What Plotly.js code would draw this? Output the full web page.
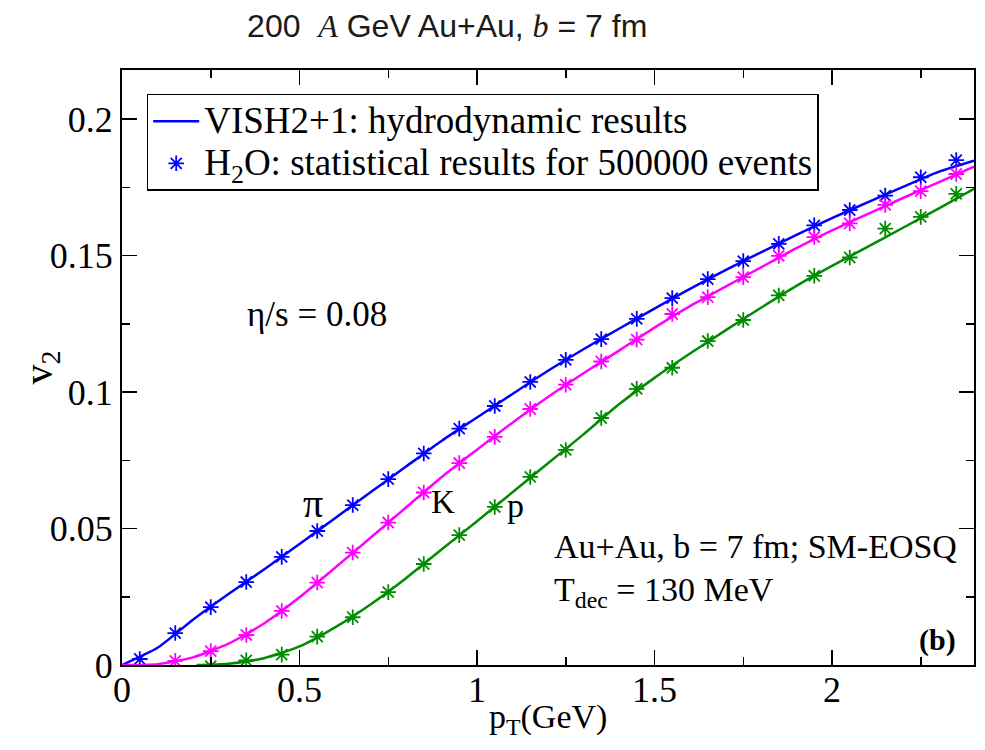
<!DOCTYPE html>
<html>
<head>
<meta charset="utf-8">
<script src="https://cdn.plot.ly/plotly-3.0.1.min.js"></script>
<style>html,body{margin:0;padding:0;background:#fff;}#chart{width:985px;height:750px;}</style>
</head>
<body>
<div id="chart"></div>
<script>
// Statistical (H2O) points
const ptPoints = [0.05,0.15,0.25,0.35,0.45,0.55,0.65,0.75,0.85,0.95,1.05,1.15,1.25,1.35,1.45,1.55,1.65,1.75,1.85,1.95,2.05,2.15,2.25,2.35];
const pionPts = [0.0022,0.0117,0.0212,0.0304,0.0396,0.0491,0.0586,0.0681,0.0775,0.0866,0.0949,0.1037,0.1118,0.1194,0.1268,0.1344,0.1414,0.1480,0.1543,0.1611,0.1667,0.1720,0.1787,0.1850];
const kaonPtsX = [0.15,0.25,0.35,0.45,0.55,0.65,0.75,0.85,0.95,1.05,1.15,1.25,1.35,1.45,1.55,1.65,1.75,1.85,1.95,2.05,2.15,2.25,2.35];
const kaonPts = [0.0015,0.0051,0.0110,0.0198,0.0302,0.0412,0.0522,0.0632,0.0740,0.0836,0.0938,0.1027,0.1112,0.1192,0.1286,0.1348,0.1421,0.1499,0.1568,0.1618,0.1686,0.1736,0.1799];
const protPtsX = [0.25,0.35,0.45,0.55,0.65,0.75,0.85,0.95,1.05,1.15,1.25,1.35,1.45,1.55,1.65,1.75,1.85,1.95,2.05,2.15,2.25,2.35];
const protPts = [-0.0004,0.0017,0.0038,0.0104,0.0175,0.0267,0.0370,0.0476,0.0579,0.0689,0.0788,0.0905,0.1012,0.1089,0.1187,0.1264,0.1354,0.1426,0.1493,0.1599,0.1642,0.1726];

// Hydrodynamic (VISH2+1) curves
const ptLine = [0,0.1,0.2,0.3,0.4,0.5,0.6,0.7,0.8,0.9,1.0,1.1,1.2,1.3,1.4,1.5,1.6,1.7,1.8,1.9,2.0,2.1,2.2,2.3,2.4];
const pionLine = [0,0.0063,0.0166,0.0260,0.0350,0.0443,0.0538,0.0633,0.0727,0.0821,0.0907,0.0993,0.1078,0.1157,0.1232,0.1306,0.1378,0.1447,0.1512,0.1576,0.1637,0.1695,0.1752,0.1807,0.1848];
const kaonLine = [0,0.0003,0.0028,0.0078,0.0152,0.0248,0.0356,0.0466,0.0577,0.0688,0.0789,0.0888,0.0982,0.1069,0.1152,0.1236,0.1315,0.1386,0.1457,0.1527,0.1592,0.1652,0.1711,0.1768,0.1826];
const ptLineP = [0.21,0.3,0.4,0.5,0.6,0.7,0.8,0.9,1.0,1.1,1.2,1.3,1.4,1.5,1.6,1.7,1.8,1.9,2.0,2.1,2.2,2.3,2.4];
const protLine = [0,0.0005,0.0025,0.0068,0.0138,0.0222,0.0318,0.0423,0.0527,0.0633,0.0739,0.0845,0.0955,0.1052,0.1141,0.1226,0.1309,0.1389,0.1462,0.1532,0.1602,0.1672,0.1745];

const legendNames = ['VISH2+1: hydrodynamic results', 'H<sub>2</sub>O: statistical results for 500000 events'];

const BLUE = '#0000ff', MAG = '#ff00ff', GREEN = '#008b00';
const SERIF = '"Liberation Serif", "Times New Roman", serif';

function lineTrace(x, y, c, name, show) {
  return {x: x, y: y, mode: 'lines', type: 'scatter', name: name, showlegend: show,
          line: {color: c, width: 2.5, shape: 'spline', smoothing: 0.6}, hoverinfo: 'skip'};
}
function ptTrace(x, y, c, name, show) {
  return {x: x, y: y, mode: 'markers', type: 'scatter', name: name, showlegend: show,
          marker: {symbol: 'asterisk-open', size: 13, color: c, line: {color: c, width: 1.8}}, hoverinfo: 'skip'};
}
const big = s => '<span style="font-size:37px">' + s + '</span>';

const traces = [
  lineTrace(ptLine, pionLine, BLUE, big(legendNames[0]), true),
  ptTrace(ptPoints, pionPts, BLUE, big(legendNames[1]), true),
  lineTrace(ptLine, kaonLine, MAG, 'K hydro', false),
  ptTrace(kaonPtsX, kaonPts, MAG, 'K stat', false),
  lineTrace(ptLineP, protLine, GREEN, 'p hydro', false),
  ptTrace(protPtsX, protPts, GREEN, 'p stat', false)
];

const axisCommon = {
  showline: true, linecolor: '#000', linewidth: 2, mirror: 'allticks',
  ticks: 'inside', ticklen: 15, tickwidth: 1.5, tickcolor: '#000',
  showgrid: false, zeroline: false,
  tickfont: {family: SERIF, size: 36, color: '#000'}
};

const layout = {
  width: 985, height: 750,
  paper_bgcolor: '#fff', plot_bgcolor: '#fff',
  margin: {l: 122, r: 11, t: 70, b: 85},
  title: {
    text: '200  <span style="font-family:Liberation Serif;font-style:italic">A</span> GeV Au+Au, <span style="font-family:Liberation Serif;font-style:italic">b</span> = 7 fm',
    font: {family: '"Liberation Sans", "DejaVu Sans", sans-serif', size: 32, color: '#1a1a1a'},
    x: 0.454, xanchor: 'center', xref: 'container', y: 0.965, yanchor: 'middle', yref: 'container'
  },
  xaxis: Object.assign({}, axisCommon, {
    range: [0, 2.4], tick0: 0, dtick: 0.5, ticklabelstandoff: -8,
    minor: {dtick: 0.25, ticks: 'inside', ticklen: 8, tickwidth: 1.5, tickcolor: '#000'}
  }),
  yaxis: Object.assign({}, axisCommon, {
    range: [0, 0.218], tick0: 0, dtick: 0.05,
    minor: {dtick: 0.025, ticks: 'inside', ticklen: 8, tickwidth: 1.5, tickcolor: '#000'}
  }),
  showlegend: true,
  legend: {
    x: 0.029, y: 0.96, xanchor: 'left', yanchor: 'top',
    bgcolor: '#fff', bordercolor: '#000', borderwidth: 1.5,
    font: {family: SERIF, size: 30, color: '#000'},
    itemwidth: 46, tracegroupgap: 0
  },
  annotations: [
    {xref: 'paper', yref: 'paper', x: 0.5, y: (665-719)/595, xanchor: 'center', yanchor: 'middle', showarrow: false,
     text: 'p<sub>T</sub>(GeV)', font: {family: SERIF, size: 34, color: '#000'}},
    {xref: 'paper', yref: 'paper', x: (40-122)/852, y: 0.5, xanchor: 'center', yanchor: 'middle', showarrow: false, textangle: -90,
     text: 'v<sub>2</sub>', font: {family: SERIF, size: 40, color: '#000'}},
    {xref: 'paper', yref: 'paper', x: (245-122)/852, y: (665-314)/595, xanchor: 'left', yanchor: 'middle', showarrow: false,
     text: 'η/s = 0.08', font: {family: SERIF, size: 35, color: '#000'}},
    {xref: 'paper', yref: 'paper', x: (313-122)/852, y: (665-503)/595, xanchor: 'center', yanchor: 'middle', showarrow: false,
     text: 'π', font: {family: SERIF, size: 40, color: '#000'}},
    {xref: 'paper', yref: 'paper', x: (443-122)/852, y: (665-502)/595, xanchor: 'center', yanchor: 'middle', showarrow: false,
     text: 'K', font: {family: SERIF, size: 33, color: '#000'}},
    {xref: 'paper', yref: 'paper', x: (515-122)/852, y: (665-505)/595, xanchor: 'center', yanchor: 'middle', showarrow: false,
     text: 'p', font: {family: SERIF, size: 34, color: '#000'}},
    {xref: 'paper', yref: 'paper', x: (552-122)/852, y: (665-546)/595, xanchor: 'left', yanchor: 'middle', showarrow: false,
     text: 'Au+Au, b = 7 fm; SM-EOSQ', font: {family: SERIF, size: 34, color: '#000'}},
    {xref: 'paper', yref: 'paper', x: (552-122)/852, y: (665-592)/595, xanchor: 'left', yanchor: 'middle', showarrow: false,
     text: 'T<sub>dec</sub> = 130 MeV', font: {family: SERIF, size: 34, color: '#000'}},
    {xref: 'paper', yref: 'paper', x: (958-122)/852, y: (665-640)/595, xanchor: 'right', yanchor: 'middle', showarrow: false,
     text: '<b>(b)</b>', font: {family: SERIF, size: 30, color: '#000'}}
  ]
};

Plotly.newPlot('chart', traces, layout, {displayModeBar: false, staticPlot: true});
</script>
</body>
</html>
